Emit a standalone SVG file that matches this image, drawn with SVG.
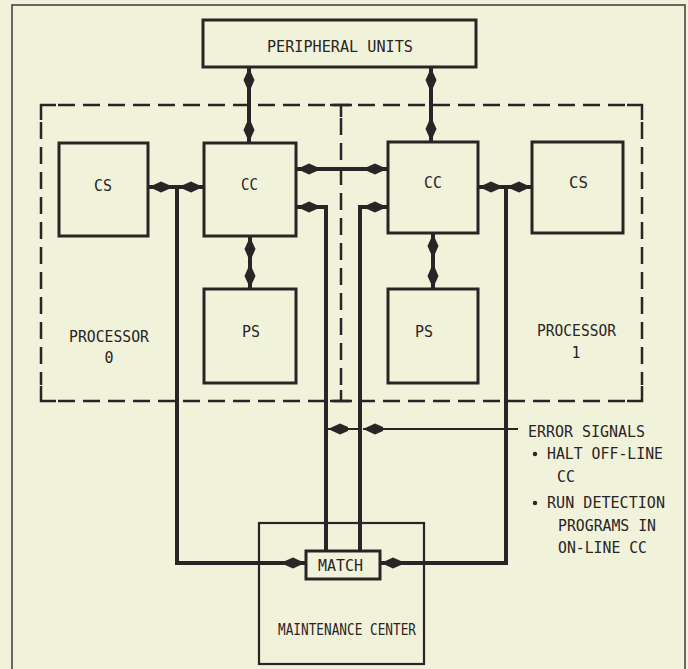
<svg xmlns="http://www.w3.org/2000/svg" width="688" height="669" viewBox="0 0 688 669">
<style>
  .box{fill:none;stroke:#2a2426;stroke-width:3}
  .thin{fill:none;stroke:#2a2426;stroke-width:2.2}
  .bus{fill:none;stroke:#2a2426;stroke-width:4}
  .sig{fill:none;stroke:#2a2426;stroke-width:2}
  .dash{fill:none;stroke:#2a2426;stroke-width:2.5;stroke-dasharray:17 8}
  .solid{fill:none;stroke:#2a2426;stroke-width:2.5}
  text{font-family:"DejaVu Sans Mono","Liberation Mono",monospace;font-size:15px;fill:#2a2426}
</style>
<defs>
  <marker id="ah" markerUnits="userSpaceOnUse" viewBox="-22 -7 23 14" refX="0" refY="0" markerWidth="23" markerHeight="14" orient="auto-start-reverse">
    <path d="M0,0 L-12,-5.5 L-20,-2 L-20,2 L-12,5.5 Z" fill="#2a2426"/>
  </marker>
</defs>
<rect width="688" height="669" fill="#f1f2da"/>
<rect x="12" y="5" width="673" height="680" fill="none" stroke="#4a4446" stroke-width="1.6"/>

<g id="processor-frame">
  <path class="dash" d="M58,105 H625"/>
  <path class="dash" d="M41,122 V385"/>
  <path class="dash" d="M642,122 V385"/>
  <path class="dash" d="M58,401 H625"/>
  <path class="solid" d="M41,120 V105 H56"/>
  <path class="solid" d="M627,105 H642 V120"/>
  <path class="solid" d="M41,386 V401 H56"/>
  <path class="solid" d="M627,401 H642 V386"/>
  <path class="dash" d="M341,118 V392"/>
  <path class="solid" d="M330,105 H352 M341,105 V117"/>
  <path class="solid" d="M330,401 H352 M341,401 V390"/>
</g>

<g id="peripheral-units">
  <rect class="box" x="203" y="20" width="273" height="47"/>
  <text x="267" y="52" textLength="146" lengthAdjust="spacingAndGlyphs">PERIPHERAL UNITS</text>
</g>
<g id="cs0">
  <rect class="box" x="59" y="143" width="89" height="93"/>
  <text x="94" y="191" textLength="18" lengthAdjust="spacingAndGlyphs">CS</text>
</g>
<g id="cc0">
  <rect class="box" x="204" y="143" width="92" height="93"/>
  <text x="241" y="190" textLength="17" lengthAdjust="spacingAndGlyphs">CC</text>
</g>
<g id="ps0">
  <rect class="box" x="204" y="289" width="92" height="94"/>
  <text x="242" y="337" textLength="18" lengthAdjust="spacingAndGlyphs">PS</text>
</g>
<g id="cc1">
  <rect class="box" x="388" y="142" width="90" height="91"/>
  <text x="424" y="188" textLength="18" lengthAdjust="spacingAndGlyphs">CC</text>
</g>
<g id="cs1">
  <rect class="box" x="532" y="142" width="91" height="91"/>
  <text x="569" y="188" textLength="19" lengthAdjust="spacingAndGlyphs">CS</text>
</g>
<g id="ps1">
  <rect class="box" x="388" y="289" width="90" height="94"/>
  <text x="415" y="337" textLength="18" lengthAdjust="spacingAndGlyphs">PS</text>
</g>
<g id="processor0-label">
  <text x="69" y="342" textLength="80" lengthAdjust="spacingAndGlyphs">PROCESSOR</text>
  <text x="109" y="363" text-anchor="middle">0</text>
</g>
<g id="processor1-label">
  <text x="537" y="336" textLength="79" lengthAdjust="spacingAndGlyphs">PROCESSOR</text>
  <text x="576" y="358" text-anchor="middle">1</text>
</g>
<g id="maintenance-center">
  <rect class="thin" x="259" y="523" width="165" height="141"/>
  <text x="278" y="635" textLength="138" lengthAdjust="spacingAndGlyphs">MAINTENANCE CENTER</text>
</g>
<g id="match">
  <rect class="box" x="306" y="551" width="74" height="28" fill="#f1f2da"/>
  <text x="318" y="571" textLength="45" lengthAdjust="spacingAndGlyphs">MATCH</text>
</g>
<g id="error-signals-note">
  <text x="528" y="437" textLength="117" lengthAdjust="spacingAndGlyphs">ERROR SIGNALS</text>
  <circle cx="535" cy="454" r="2.2" fill="#2a2426"/>
  <text x="547" y="459" textLength="116" lengthAdjust="spacingAndGlyphs">HALT OFF-LINE</text>
  <text x="557" y="482" textLength="18" lengthAdjust="spacingAndGlyphs">CC</text>
  <circle cx="535" cy="503" r="2.2" fill="#2a2426"/>
  <text x="547" y="508" textLength="118" lengthAdjust="spacingAndGlyphs">RUN DETECTION</text>
  <text x="558" y="531" textLength="98" lengthAdjust="spacingAndGlyphs">PROGRAMS IN</text>
  <text x="558" y="553" textLength="89" lengthAdjust="spacingAndGlyphs">ON-LINE CC</text>
</g>

<g id="connectors">
  <path class="bus" d="M249,68 V142" marker-start="url(#ah)" marker-end="url(#ah)"/>
  <path class="bus" d="M431,68 V141" marker-start="url(#ah)" marker-end="url(#ah)"/>
  <path class="bus" d="M297,169 H387" marker-start="url(#ah)" marker-end="url(#ah)"/>
  <path class="bus" d="M250,237 V288" marker-start="url(#ah)" marker-end="url(#ah)"/>
  <path class="bus" d="M433,234 V288" marker-start="url(#ah)" marker-end="url(#ah)"/>
  <path class="bus" d="M177,187 H149" marker-end="url(#ah)"/>
  <path class="bus" d="M177,187 H203" marker-end="url(#ah)"/>
  <path class="bus" d="M177,187 V563 H305" marker-end="url(#ah)"/>
  <path class="bus" d="M506,187 H479" marker-end="url(#ah)"/>
  <path class="bus" d="M506,187 H531" marker-end="url(#ah)"/>
  <path class="bus" d="M506,187 V563 H381" marker-end="url(#ah)"/>
  <path class="bus" d="M326,551 V207 H297" marker-end="url(#ah)"/>
  <path class="bus" d="M360,551 V207 H387" marker-end="url(#ah)"/>
  <path class="sig" d="M518,429 H363" marker-end="url(#ah)"/>
  <path class="sig" d="M360,429 H328" marker-end="url(#ah)"/>
</g>
</svg>
